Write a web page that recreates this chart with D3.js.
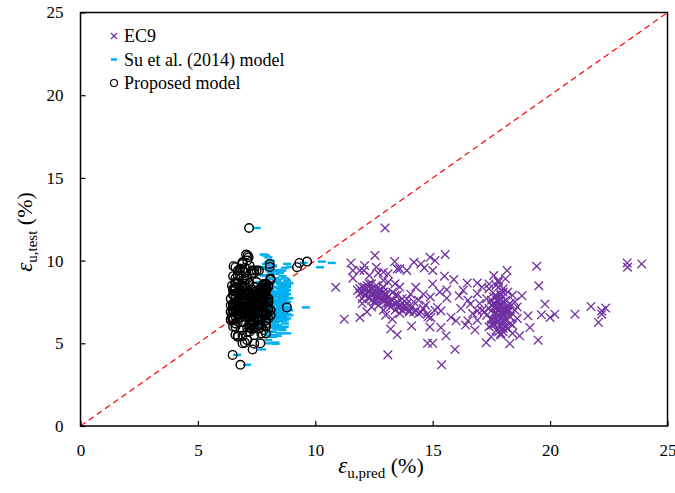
<!DOCTYPE html>
<html lang="en">
<head>
<meta charset="utf-8">
<title>Strain comparison</title>
<script src="https://cdn.jsdelivr.net/npm/d3@7"></script>
<style>
  body { margin: 0; background: #fff; }
  svg text { font-family: "Liberation Serif", "Times New Roman", serif; fill: #000; }
</style>
</head>
<body>
<div id="chart"></div>
<script>
// measured strain of each specimen (%), and the three predictions for it
var testStrain = [
  11.97,10.31,10.20,10.37,9.86,9.94,9.66,9.86,9.60,9.80,
  9.40,9.40,8.94,9.40,9.25,9.50,9.40,9.56,9.40,9.06,
  8.85,8.64,8.64,8.59,8.79,8.48,8.39,8.59,8.39,8.24,
  7.73,7.87,7.97,7.67,7.97,6.88,6.76,7.17,6.96,6.58,
  6.36,6.56,5.95,5.99,5.45,4.63,5.00,5.00,4.30,3.70,
  6.46,6.56,6.46,5.51,5.86,6.05,7.37,6.96,6.36,5.04,
  5.39,4.98,5.45,5.95,6.66,7.87,5.19,7.37,6.72,6.56,
  6.76,6.76,7.23,6.76,6.26,7.13,6.96,9.62,8.92,
  8.2,8.0,8.4,7.9,8.1,8.6,7.7,8.3,7.5,8.0,
  8.5,7.8,7.3,8.2,7.6,7.0,8.0,7.4,8.7,7.8,
  7.2,7.6,8.1,7.0,7.5,7.9,7.3,6.8,7.7,7.1,
  7.4,6.9,7.2,7.0,6.8,7.1,6.9,7.4,8.8,8.4,
  7.7,8.3,7.6,8.1,7.9,6.7,7.2,8.6,7.5,6.6,
  7.0,6.8,7.2,6.5,7.5,6.3,7.8,6.9,7.3,6.6,
  7.1,6.2,7.6,6.0,8.0,6.7,7.4,5.9,7.9,6.4,
  7.0,8.3,5.8,6.1,7.7,8.5,6.9,7.2,6.4,7.6,
  6.0,8.1,5.7,6.8,7.3,6.6,7.1,7.9,6.3,7.4,
  6.2,8.7,8.9,9.1,5.5,5.6,6.5,7.5,8.3,7.0,
  8.2,7.6,7.1,6.8,8.0,7.4,6.1,5.8,8.4,6.4,
  7.6,7.3,7.8,7.0,8.1,
  7.9,8.1,7.6,8.3,7.4,8.0,7.7,8.5,7.2,7.8,
  8.2,7.5,7.0,8.4,7.9,7.3,8.6,7.6,8.0,7.1,
  7.8,8.3,7.4,6.9,8.1,7.7,7.5,8.2,7.2,8.0,
  7.6,8.4,7.3,7.9,7.0,
  6.9,7.2,6.4,7.6,6.1,7.0,6.7,7.8,5.9,7.3,
  6.5,7.1,6.8,8.1,6.2,7.5,6.6,7.4,5.7,6.9,
  7.7,6.3,7.0,8.4,6.0,7.2,6.7,7.9,5.6,6.4,
  7.1,6.8,7.5,6.1,7.3,
  9.1,9.3,9.5,9.7,9.9,9.2,9.6,10.0,9.4,9.8
];

var ec9Pred = [
  12.97,12.54,14.89,15.53,11.52,13.38,19.43,23.28,23.30,23.90,
  18.17,11.60,11.60,12.07,12.68,13.49,13.90,14.64,15.00,15.50,
  15.90,16.47,16.90,17.40,17.78,19.52,10.87,15.00,14.28,15.60,
  15.60,16.13,14.06,13.90,14.60,14.50,14.77,15.20,15.35,15.78,
  15.99,14.92,15.35,14.88,15.57,15.95,14.78,15.00,13.09,15.38,
  11.23,11.90,13.28,13.49,13.21,14.10,16.60,16.90,16.50,17.28,
  17.49,18.28,18.70,19.14,19.06,18.80,19.49,19.78,19.63,20.00,
  20.20,21.06,21.74,22.20,22.06,22.37,22.20,8.06,8.09,
  11.8,11.9,12.0,12.1,12.2,12.3,12.3,12.4,12.5,12.5,
  12.6,12.7,12.7,12.8,12.9,12.9,13.0,13.0,13.1,13.1,
  13.2,13.3,13.3,13.4,13.5,13.5,13.6,13.6,13.7,13.8,
  13.9,14.0,14.1,14.3,14.4,14.6,12.2,12.0,12.9,13.6,
  12.0,11.9,12.6,12.9,13.4,13.0,12.4,13.4,14.2,14.8,
  17.8,17.6,17.9,17.7,17.8,18.0,17.6,18.2,17.5,18.3,
  17.4,17.6,18.1,17.9,17.9,17.3,18.3,18.2,18.4,17.5,
  18.5,18.0,17.7,18.4,17.3,17.7,17.2,18.6,18.1,17.5,
  17.4,18.2,18.0,18.0,18.2,17.9,17.7,17.9,17.8,17.6,
  18.3,17.8,18.1,17.6,17.9,18.4,18.6,18.5,17.4,17.1,
  16.3,16.5,16.2,16.7,16.9,17.0,16.4,16.8,17.1,16.9,
  14.4,14.7,14.9,15.1,15.3,
  12.1,12.3,12.6,12.2,13.1,12.4,12.8,12.2,13.5,12.6,
  12.5,13.2,13.7,12.1,12.9,13.3,12.4,13.0,12.7,13.9,
  12.3,12.6,13.4,14.2,12.0,12.9,13.1,12.7,13.6,12.8,
  12.4,12.9,13.8,13.0,14.0,
  17.9,17.7,18.0,17.8,17.6,18.1,17.8,17.7,18.0,17.9,
  17.5,18.2,17.7,18.0,17.9,17.8,18.3,17.6,17.8,18.0,
  17.9,17.7,18.2,17.8,18.1,17.6,18.0,17.7,17.9,17.8,
  18.1,17.9,18.0,17.5,17.8,
  12.3,12.9,13.6,12.1,14.2,13.1,12.6,15.1,11.9,14.5
];

var suPred = [
  7.5,7.9,8.0,7.8,9.5,10.28,8.2,10.7,10.2,8.8,
  8.4,8.6,8.3,8.1,8.5,8.0,8.3,8.7,8.2,8.6,
  8.4,8.9,8.6,8.5,8.8,8.7,8.2,8.8,8.4,8.6,
  8.9,8.7,8.5,8.6,8.8,8.3,8.7,9.6,8.5,8.6,
  8.4,8.3,8.6,8.2,8.4,7.73,8.3,8.0,6.67,7.09,
  8.1,8.5,8.2,8.0,8.4,8.3,8.7,8.5,8.6,8.3,
  8.2,8.3,8.1,8.5,8.4,8.6,8.0,8.5,8.7,8.6,
  8.4,8.8,8.5,8.6,8.3,8.7,8.4,8.9,8.7,
  7.6,8.3,8.6,7.9,8.4,8.1,8.8,7.5,8.2,8.7,
  7.8,8.5,7.4,8.6,8.0,8.9,7.7,8.3,7.6,8.5,
  8.1,7.9,8.4,7.5,8.7,8.2,8.3,7.8,8.6,8.4,
  7.7,8.0,8.8,7.6,8.5,8.6,7.4,8.2,7.9,8.3,
  8.1,7.5,8.6,8.2,7.9,8.7,8.0,7.7,8.5,8.4,
  8.6,8.0,7.6,8.4,8.8,7.9,8.3,7.5,8.5,8.1,
  7.8,8.7,8.2,7.7,8.3,8.9,7.6,8.5,8.0,7.4,
  8.3,8.6,7.9,8.2,7.6,8.8,8.1,7.8,8.6,8.4,
  7.5,8.7,8.2,7.7,8.5,8.0,8.8,7.9,8.3,8.7,
  7.6,8.4,8.1,7.8,8.2,8.8,7.5,8.3,8.5,8.0,
  8.1,8.5,7.9,8.7,8.3,7.7,8.2,8.6,7.8,8.4,
  8.0,7.7,8.3,8.8,7.9,
  7.7,8.5,7.9,8.7,7.6,8.4,8.0,8.6,7.8,8.3,
  7.9,8.5,8.1,8.8,7.6,8.2,8.7,7.8,8.5,8.0,
  8.6,7.7,8.4,7.9,8.5,7.5,8.1,8.8,7.8,8.4,
  8.0,8.3,7.7,8.6,8.1,
  8.5,7.6,8.7,8.1,8.4,7.7,8.6,7.9,8.3,7.6,
  8.8,8.0,8.5,8.2,7.7,8.7,7.9,8.4,8.1,7.5,
  8.6,7.8,8.4,8.1,8.7,7.7,8.3,7.9,8.5,7.6,
  8.6,8.0,8.4,8.2,7.8,
  7.9,8.1,7.8,8.2,8.0,8.3,7.7,8.1,8.4,7.9
];

var propPred = [
  7.18,7.12,7.16,7.05,9.32,9.65,6.52,6.9,9.22,8.06,
  6.7,7.3,6.6,6.9,7.4,6.8,7.6,7.0,7.5,6.5,
  8.09,7.2,6.7,7.8,7.0,6.45,7.7,7.9,6.6,7.3,
  6.9,7.6,7.1,8.0,6.5,7.4,7.8,8.79,6.6,7.2,
  7.9,6.45,7.1,7.7,6.7,7.33,7.66,6.9,6.48,6.81,
  6.4,6.8,7.5,6.6,7.3,7.9,7.0,6.5,7.6,7.0,
  6.7,7.4,6.9,7.2,6.6,7.3,7.1,7.7,6.8,7.5,
  7.0,7.9,6.6,7.4,7.2,6.7,7.8,8.06,8.09,
  6.5,7.2,7.9,6.8,7.6,7.0,8.0,6.6,7.4,7.8,
  6.9,7.3,6.4,7.7,7.1,8.1,6.7,7.5,6.6,7.9,
  7.2,6.9,7.6,6.5,8.0,7.0,7.4,6.8,7.8,7.3,
  6.6,7.1,7.9,6.7,7.5,8.0,6.4,7.2,6.9,7.7,
  7.0,6.5,7.6,7.4,6.8,7.9,7.1,6.6,7.8,7.3,
  7.8,7.0,6.6,7.5,8.0,6.9,7.3,6.5,7.7,7.1,
  6.8,7.9,7.4,6.6,7.2,8.1,6.7,7.6,7.0,6.4,
  7.5,7.8,6.9,7.3,6.6,8.0,7.1,6.8,7.7,7.4,
  6.5,7.9,7.2,6.7,7.6,7.0,8.0,6.9,7.3,7.8,
  6.6,7.5,7.1,6.8,7.4,7.9,6.5,7.2,7.7,7.0,
  7.0,7.6,6.8,7.9,7.3,6.6,7.2,7.8,6.9,7.4,
  7.1,6.7,7.5,8.0,6.8,
  6.6,7.7,6.9,7.9,6.5,7.5,7.0,7.8,6.7,7.4,
  6.8,7.6,7.1,8.0,6.5,7.3,7.9,6.7,7.6,7.0,
  7.8,6.6,7.5,6.9,7.7,6.4,7.2,7.9,6.8,7.6,
  7.0,7.4,6.6,7.8,7.1,
  7.7,6.5,7.9,7.0,7.6,6.6,7.8,6.8,7.4,6.5,
  8.0,6.9,7.7,7.2,6.6,7.9,6.8,7.5,7.1,6.4,
  7.8,6.7,7.6,7.0,7.9,6.6,7.3,6.8,7.7,6.5,
  7.8,6.9,7.6,7.2,6.7,
  6.7,7.0,6.8,7.2,6.9,7.3,6.6,7.1,7.4,6.9
];

var axisTicks = [0, 5, 10, 15, 20, 25];
var legendLabels = ["EC9", "Su et al. (2014) model", "Proposed model"];

var w = 675, h = 493;
var plotL = 80.5, plotR = 667.5, plotT = 12.5, plotB = 426;
var purple = "#7030A0", cyan = "#00B0F0";

var svg = d3.select("#chart").append("svg")
  .attr("width", w)
  .attr("height", h);

svg.append("rect").attr("width", w).attr("height", h).attr("fill", "#fff");

var xScale = d3.scaleLinear().domain([0, 25]).range([plotL, plotR]);
var yScale = d3.scaleLinear().domain([0, 25]).range([plotB, plotT]);

// 1:1 line
svg.append("line")
  .attr("x1", xScale(0)).attr("y1", yScale(0))
  .attr("x2", xScale(25)).attr("y2", yScale(25))
  .attr("stroke", "#ff0000")
  .attr("stroke-width", 1.2)
  .attr("stroke-dasharray", "6,4");

var idx = d3.range(testStrain.length);

// EC9 crosses
var cross = 4.3;
svg.append("g").selectAll("path")
  .data(idx)
  .enter()
  .append("path")
  .attr("d", function(i) {
    var cx = xScale(ec9Pred[i]), cy = yScale(testStrain[i]);
    return "M" + (cx - cross) + "," + (cy - cross) + "L" + (cx + cross) + "," + (cy + cross) +
           "M" + (cx - cross) + "," + (cy + cross) + "L" + (cx + cross) + "," + (cy - cross);
  })
  .attr("stroke", purple)
  .attr("stroke-width", 1.3)
  .attr("fill", "none");

// Su et al. dashes
svg.append("g").selectAll("line")
  .data(idx)
  .enter()
  .append("line")
  .attr("x1", (i) => xScale(suPred[i]) - 4)
  .attr("x2", (i) => xScale(suPred[i]) + 4)
  .attr("y1", (i) => yScale(testStrain[i]))
  .attr("y2", (i) => yScale(testStrain[i]))
  .attr("stroke", cyan)
  .attr("stroke-width", 2.5);

// proposed model circles
svg.append("g").selectAll("circle")
  .data(idx)
  .enter()
  .append("circle")
  .attr("cx", (i) => xScale(propPred[i]))
  .attr("cy", (i) => yScale(testStrain[i]))
  .attr("r", 4.3)
  .attr("fill", "none")
  .attr("stroke", "#000")
  .attr("stroke-width", 1.4);

// axes
var xAxis = d3.axisBottom(xScale).tickValues(axisTicks).tickSizeInner(-5).tickSizeOuter(0).tickPadding(18);
var yAxis = d3.axisLeft(yScale).tickValues(axisTicks).tickSizeInner(-5).tickSizeOuter(0).tickPadding(17);

var gx = svg.append("g").attr("transform", "translate(0," + plotB + ")").call(xAxis);
var gy = svg.append("g").attr("transform", "translate(" + plotL + ",0)").call(yAxis);
[gx, gy].forEach(function(g) {
  g.select(".domain").remove();
  g.selectAll("line").attr("stroke", "#000").attr("stroke-width", 1.2);
  g.selectAll("text")
    .attr("font-size", 17)
    .attr("fill", "#000");
});

svg.append("rect")
  .attr("x", plotL).attr("y", plotT)
  .attr("width", plotR - plotL).attr("height", plotB - plotT)
  .attr("fill", "none")
  .attr("stroke", "#000")
  .attr("stroke-width", 1.5);

// axis titles
var xt = svg.append("text")
  .attr("x", 381).attr("y", 473)
  .attr("text-anchor", "middle");
xt.append("tspan").attr("font-size", 23).attr("font-style", "italic").text("ε");
xt.append("tspan").attr("font-size", 15).attr("dy", 5).text("u,pred");
xt.append("tspan").attr("font-size", 22).attr("dy", -5).text(" (%)");

var yt = svg.append("text")
  .attr("transform", "translate(32,232) rotate(-90)")
  .attr("text-anchor", "middle");
yt.append("tspan").attr("font-size", 23).attr("font-style", "italic").text("ε");
yt.append("tspan").attr("font-size", 15).attr("dy", 5).text("u,test");
yt.append("tspan").attr("font-size", 22).attr("dy", -5).text(" (%)");

// legend
var legend = svg.append("g");
var legY = [36, 59.5, 83];
legendLabels.forEach(function(label, k) {
  var g = legend.append("g").attr("transform", "translate(114," + legY[k] + ")");
  if (k === 0) {
    g.append("path").attr("d", "M-3,-3L3,3M-3,3L3,-3")
      .attr("stroke", purple).attr("stroke-width", 1.2);
  } else if (k === 1) {
    g.append("line").attr("x1", -3).attr("x2", 3)
      .attr("stroke", cyan).attr("stroke-width", 2.5);
  } else {
    g.append("circle").attr("r", 3.5)
      .attr("fill", "none").attr("stroke", "#000").attr("stroke-width", 1.2);
  }
  g.append("text")
    .attr("x", 10).attr("y", 6)
    .attr("font-size", 18)
    .text(label);
});
</script>
</body>
</html>
